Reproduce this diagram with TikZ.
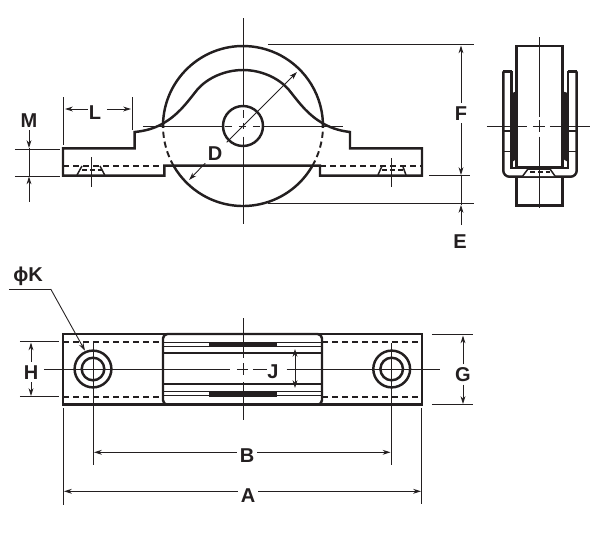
\documentclass[tikz,border=0pt]{standalone}
\usepackage{fontspec}
\setmainfont{Liberation Sans}
\usetikzlibrary{arrows.meta}
\usetikzlibrary{calc}

\begin{document}
\begin{tikzpicture}[x=0.02cm,y=-0.02cm]
        \tikzset{>=Stealth}
        \definecolor{inkcolor}{HTML}{231F20}
        \tikzset{partline/.style={draw=inkcolor,line width=1.4pt}}
        \tikzset{medline/.style={draw=inkcolor,line width=0.85pt}}
        \tikzset{hiddenline/.style={draw=inkcolor,line width=1.1pt,dash pattern=on 3.5pt off 2.2pt}}
        \tikzset{axisline/.style={draw=inkcolor,line width=0.5pt}}
        \tikzset{dimline/.style={draw=inkcolor,line width=0.5pt,-{Stealth[length=4.5pt,width=2.8pt]}}}
        \tikzset{lbl/.style={font=\fontsize{11.4}{12}\selectfont\bfseries,text=inkcolor,text height=8.2pt,text depth=0pt,inner sep=1.5pt}}

        \useasboundingbox (0,0) rectangle (600,535);

        % front view
        \coordinate (wheelc) at (243,126);
        \draw[partline] (wheelc) ++(178.6:80) arc[start angle=178.6,end angle=361.4,radius=80];
        \draw[partline] (wheelc) ++(30:80) arc[start angle=30,end angle=150,radius=80];
        \draw[hiddenline] (wheelc) ++(150:80) arc[start angle=150,end angle=178.6,radius=80];
        \draw[hiddenline] (wheelc) ++(30:80) arc[start angle=30,end angle=1.4,radius=80];
        \draw[partline] (wheelc) circle[radius=20];
        \draw[partline] (164.3,165.7) -- (164.3,175.7) -- (63,175.7) -- (63,148.3) -- (134.7,148.3) -- (134.7,132)
            .. controls (145,131) and (154,128.5) .. (162,124)
            .. controls (178,115) and (185,105) .. (197,90)
            .. controls (207,78) and (225,70) .. (243,70)
            .. controls (261,70) and (279,78) .. (289,90)
            .. controls (301,105) and (308,115) .. (324,124)
            .. controls (332,128.5) and (341,131) .. (350,132)
            -- (350,148.3) -- (422,148.3) -- (422,175.7) -- (320,175.7) -- (320,165.7) -- cycle;
        \draw[hiddenline] (63,166) -- (164,166);
        \draw[hiddenline] (320,166) -- (422,166);
        % countersinks
        \draw[medline] (77,175) -- (82,166);
        \draw[medline] (100,166) -- (104.7,175);
        \draw[medline,dash pattern=on 3pt off 1.5pt] (82,170) -- (102,170);
        \draw[medline] (378,175) -- (382,166);
        \draw[medline] (402.7,166) -- (406,175);
        \draw[medline,dash pattern=on 3pt off 1.5pt] (382,170) -- (403,170);
        \draw[axisline] (91,157) -- (91,187);
        \draw[axisline] (391.7,158) -- (391.7,187);
        % axes of the wheel
        \draw[axisline] (243,18) -- (243,105);
        \draw[axisline] (243,110) -- (243,118);
        \draw[axisline] (243,122.7) -- (243,129.3);
        \draw[axisline] (243,136.7) -- (243,145);
        \draw[axisline] (243,146) -- (243,224);
        \draw[axisline] (143,126) -- (222,126);
        \draw[axisline] (225,126) -- (232,126);
        \draw[axisline] (239,126) -- (246,126);
        \draw[axisline] (253,126) -- (260,126);
        \draw[axisline] (263,126) -- (343,126);

        % side view
        \draw[partline] (516.7,167) -- (516.7,46) -- (562.7,46) -- (562.7,167);
        \draw[partline] (516.7,177.7) -- (516.7,205.7) -- (562.7,205.7) -- (562.7,177.7);
        \fill[inkcolor] (511.7,93) -- (518,91) -- (518,158) -- (512,162) -- cycle;
        \fill[inkcolor] (568,93) -- (561.5,91) -- (561.5,158) -- (568,162) -- cycle;
        \draw[partline,rounded corners=3.5pt] (503.3,71.3) -- (503.3,176.7) -- (576.7,176.7) -- (576.7,71.3);
        \draw[partline] (503.3,71.3) -- (511.7,71.3);
        \draw[partline] (568,71.3) -- (576.7,71.3);
        \draw[partline] (511.7,71.3) -- (511.7,168) -- (568,168) -- (568,71.3);
        \draw[medline] (516.7,166.5) -- (562.7,166.5);
        \draw[medline] (503.3,131) -- (511.7,131);
        \draw[medline] (503.3,151.7) -- (511.7,151.7);
        \draw[medline] (568,131) -- (576.7,131);
        \draw[medline] (568,151.7) -- (576.7,151.7);
        \draw[medline,fill=white] (522.7,176) -- (528,169) -- (550,169) -- (555,176);
        \draw[medline,dash pattern=on 3pt off 1.5pt] (530,172) -- (550,172);
        \draw[axisline] (539.3,37) -- (539.3,116.7);
        \draw[axisline] (539.3,120) -- (539.3,131.7);
        \draw[axisline] (539.3,136.7) -- (539.3,208);
        \draw[axisline] (487,126) -- (527,126);
        \draw[axisline] (533,126) -- (545,126);
        \draw[axisline] (550,126) -- (590,126);

        % plan view
        \draw[partline] (63,334) rectangle (422,404.7);
        \draw[hiddenline] (63,341.7) -- (163,341.7);
        \draw[hiddenline] (63,396.7) -- (163,396.7);
        \draw[hiddenline] (322,341.7) -- (422,341.7);
        \draw[hiddenline] (322,396.7) -- (422,396.7);
        \draw[partline,rounded corners=2.5pt] (163,334) rectangle (322,404.7);
        \draw[medline] (163,353) -- (322,353);
        \draw[medline] (163,384) -- (322,384);
        \draw[medline] (163,342.7) -- (322,342.7);
        \draw[medline] (163,346.3) -- (322,346.3);
        \draw[medline] (163,391.7) -- (322,391.7);
        \draw[medline] (163,395.6) -- (322,395.6);
        \fill[inkcolor] (209,341.7) rectangle (277,347);
        \fill[inkcolor] (209,391) rectangle (277,396.7);
        \draw[partline] (93,369) circle[radius=18.4];
        \draw[partline] (93,369) circle[radius=11.3];
        \draw[partline] (391.7,369) circle[radius=18.4];
        \draw[partline] (391.7,369) circle[radius=11.3];
        \draw[axisline] (44,369) -- (230,369);
        \draw[axisline] (237,369) -- (248,369);
        \draw[axisline] (253,369) -- (267,369);
        \draw[axisline] (286.7,369) -- (440,369);
        \draw[axisline] (243,318) -- (243,358);
        \draw[axisline] (243,363) -- (243,375);
        \draw[axisline] (243,382) -- (243,420);
        \draw[axisline] (93,343) -- (93,465);
        \draw[axisline] (391.7,343) -- (391.7,465);

        % dimensions, front view
        \draw[axisline] (63,97) -- (63,145);
        \draw[axisline] (132,97) -- (132,130);
        \node[lbl] (lblL) at (95,112) {L};
        \coordinate (dimLa) at (65,109);
        \coordinate (dimLb) at (131,109);
        \draw[dimline] (88,109) -- (dimLa);
        \draw[dimline] (107,109) -- (dimLb);
        \draw[axisline] (15,149) -- (60,149);
        \draw[axisline] (15,176) -- (60,176);
        \node[lbl] (lblM) at (29,120) {M};
        \coordinate (dimMa) at (29,148);
        \coordinate (dimMb) at (29,176.5);
        \coordinate (dimMc) at (29,201.7);
        \draw[dimline] (lblM) -- (dimMa);
        \draw[axisline] (dimMa) -- (dimMb);
        \draw[dimline] (dimMc) -- (dimMb);
        \node[lbl] (lblD) at (215,153) {D};
        \coordinate (dimDa) at (297,72);
        \coordinate (dimDb) at (189,180);
        \draw[dimline] (lblD) -- (dimDb);
        \draw[dimline] (226.7,142.3) -- (dimDa);
        \draw[axisline] (268,44.7) -- (474,44.7);
        \draw[axisline] (268,203.7) -- (474,203.7);
        \draw[axisline] (429,175.7) -- (470,175.7);
        \node[lbl] (lblF) at (461,113) {F};
        \node[lbl] (lblE) at (460,241.7) {E};
        \coordinate (dimFa) at (461,45.5);
        \coordinate (dimFb) at (461,175);
        \coordinate (dimEa) at (461,205);
        \coordinate (dimEb) at (461,225);
        \draw[dimline] (lblF) -- (dimFa);
        \draw[dimline] (lblF) -- (dimFb);
        \draw[axisline] (dimFb) -- (dimEa);
        \draw[dimline] (dimEb) -- (dimEa);

        % dimensions, plan view
        \node[lbl] (lblK) at (28,274) {ϕK};
        \coordinate (dimKa) at (9,289);
        \coordinate (dimKb) at (50.7,289);
        \coordinate (dimKc) at (85,350.7);
        \draw[axisline] (dimKa) -- (dimKb);
        \draw[dimline] (dimKb) -- (dimKc);
        \draw[axisline] (20,341.7) -- (59,341.7);
        \draw[axisline] (20,396.7) -- (59,396.7);
        \node[lbl] (lblH) at (31,372) {H};
        \draw[dimline] (lblH) -- (31,342.5);
        \draw[dimline] (lblH) -- (31,396);
        \draw[axisline] (432,334.7) -- (473,334.7);
        \draw[axisline] (432,404.7) -- (473,404.7);
        \node[lbl] (lblG) at (463,374.5) {G};
        \draw[dimline] (lblG) -- (463,335.5);
        \draw[dimline] (lblG) -- (463,404);
        \node[lbl] (lblJ) at (273,371.7) {J};
        \draw[dimline,{Stealth[length=4.5pt,width=2.8pt]}-{Stealth[length=4.5pt,width=2.8pt]}] (295,349) -- (295,388);
        \node[lbl] (lblB) at (247,455) {B};
        \coordinate (dimBa) at (94,452.3);
        \coordinate (dimBb) at (390.5,452.3);
        \draw[dimline] (lblB.west |- dimBa) -- (dimBa);
        \draw[dimline] (lblB.east |- dimBb) -- (dimBb);
        \node[lbl] (lblA) at (248,495) {A};
        \coordinate (dimAa) at (64,491.3);
        \coordinate (dimAb) at (421,491.3);
        \draw[dimline] (lblA.west |- dimAa) -- (dimAa);
        \draw[dimline] (lblA.east |- dimAb) -- (dimAb);
        \draw[axisline] (63,408) -- (63,505);
        \draw[axisline] (421.7,408) -- (421.7,504);
\end{tikzpicture}
\end{document}
